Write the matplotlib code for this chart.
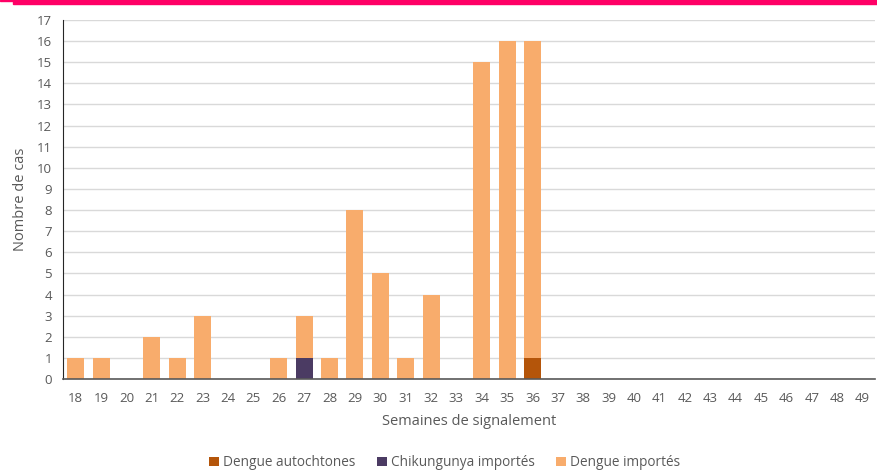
import matplotlib.pyplot as plt
from matplotlib.patches import Rectangle

weeks = list(range(18, 50))
dengue_autochtones = [0] * 32
chikungunya_importes = [0] * 32
dengue_importes = [0] * 32

# valeurs non nulles
for w, v in {36: 1}.items():
    dengue_autochtones[w - 18] = v
for w, v in {27: 1}.items():
    chikungunya_importes[w - 18] = v
for w, v in {18: 1, 19: 1, 21: 2, 22: 1, 23: 3, 26: 1, 27: 2, 28: 1, 29: 8,
             30: 5, 31: 1, 32: 4, 34: 15, 35: 16, 36: 15}.items():
    dengue_importes[w - 18] = v

c_auto = "#B4550A"
c_chik = "#4B3B63"
c_imp = "#F8AC6C"
grey = "#595959"

plt.rcParams["font.family"] = ["Open Sans", "DejaVu Sans"]

fig = plt.figure(figsize=(8.77, 4.73), dpi=100)
ax = fig.add_axes([0.0718, 0.1987, 0.9262, 0.759])

x = list(range(len(weeks)))
w = 0.67
bottom2 = [a + b for a, b in zip(dengue_autochtones, chikungunya_importes)]
series = [(dengue_autochtones, [0] * 32, c_auto, "Dengue autochtones"),
          (chikungunya_importes, dengue_autochtones, c_chik, "Chikungunya importés"),
          (dengue_importes, bottom2, c_imp, "Dengue importés")]
for vals, bot, col, lab in series:
    idx = [i for i in x if vals[i] > 0]
    ax.bar(idx, [vals[i] for i in idx], w, bottom=[bot[i] for i in idx],
           color=col, label=lab, zorder=3, linewidth=0)

ax.set_xlim(-0.5, len(weeks) - 0.5)
ax.set_ylim(0, 17)
ax.set_yticks(range(0, 18))
ax.set_xticks(x)
ax.set_xticklabels([str(v) for v in weeks])
ax.tick_params(axis="both", length=0, labelsize=9.5, colors=grey)
ax.tick_params(axis="x", pad=9)
ax.tick_params(axis="y", pad=8)
ax.yaxis.grid(True, color="#D9D9D9", linewidth=1, zorder=0)
for s in ["top", "right"]:
    ax.spines[s].set_visible(False)
ax.spines["left"].set_color("#262626")
ax.spines["bottom"].set_color("#595959")
ax.spines["bottom"].set_linewidth(1.2)
ax.spines["bottom"].set_zorder(4)

ax.set_ylabel("Nombre de cas", fontsize=10.5, color=grey, labelpad=6)
ax.set_xlabel("Semaines de signalement", fontsize=10.5, color=grey, labelpad=7)

ax.legend(loc="upper center", bbox_to_anchor=(0.47, -0.194), ncol=3, frameon=False,
          fontsize=9.8, labelcolor=grey, handlelength=0.7, handleheight=0.7,
          handletextpad=0.3, columnspacing=1.6, borderpad=0)

# bandeau rose en haut
fig.patches.append(Rectangle((0.015, 0.992), 0.985, 0.008, transform=fig.transFigure,
                             color="#FF0066", zorder=10))
fig.patches.append(Rectangle((0, 0.997), 0.02, 0.003, transform=fig.transFigure,
                             color="#FF0066", zorder=10))

fig.savefig("out.png", dpi=100)
